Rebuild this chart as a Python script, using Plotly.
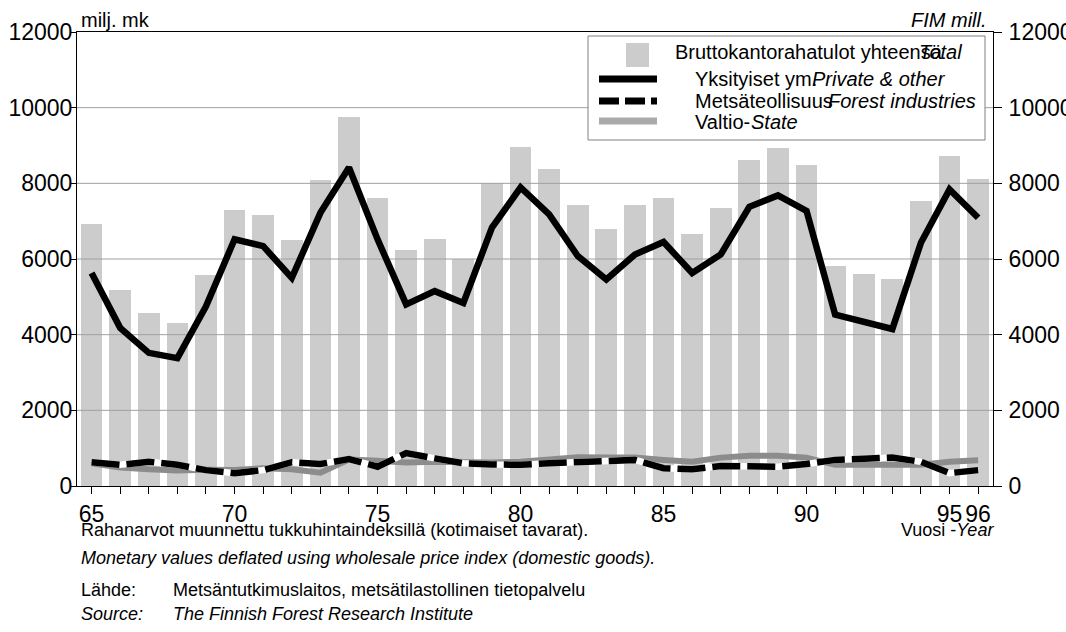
import plotly.graph_objects as go

# Stumpage earnings by seller group, million FIM (deflated), 1965-1996
years = list(range(1965, 1997))
total = [6930, 5190, 4560, 4300, 5590, 7290, 7150, 6500, 8100, 9750,
         7600, 6230, 6540, 6010, 8020, 8960, 8370, 7420, 6780, 7420,
         7600, 6650, 7360, 8630, 8930, 8490, 5810, 5610, 5460, 7540,
         8720, 8110]
private = [5630, 4180, 3520, 3380, 4750, 6520, 6340, 5500, 7220, 8420,
           6520, 4800, 5150, 4840, 6830, 7890, 7180, 6080, 5460, 6120,
           6450, 5630, 6120, 7380, 7680, 7270, 4530, 4330, 4150, 6430,
           7840, 7090]
forest = [630, 560, 640, 560, 420, 340, 420, 630, 580, 710,
          510, 870, 730, 600, 570, 560, 600, 630, 640, 690,
          470, 440, 530, 530, 510, 580, 690, 720, 750, 640,
          340, 420]
state = [600, 490, 440, 410, 430, 420, 470, 440, 350, 700,
         670, 620, 640, 620, 620, 640, 690, 760, 750, 750,
         690, 640, 750, 800, 800, 750, 560, 560, 530, 560,
         640, 680]

tick_labels = {1965: "65", 1970: "70", 1975: "75", 1980: "80",
               1985: "85", 1990: "90", 1995: "95", 1996: "96"}
y_ticks = [0, 2000, 4000, 6000, 8000, 10000, 12000]
y_tick_text = [str(v) for v in y_ticks]
grid_levels = [2000, 4000, 6000, 8000, 10000]

X_RANGE = [1964.49, 1996.52]
Y_RANGE = [0, 12000]

W, H = 1066, 632
ML, MR, MT, MB = 77, 73, 32, 146
PW, PH = W - ML - MR, H - MT - MB
FONT = "Arial, Liberation Sans, sans-serif"


def px(x):
    return (x - ML) / PW


def py(y):
    return (H - MB - y) / PH


fig = go.Figure()

fig.add_trace(go.Bar(x=years, y=total, width=0.76,
                     marker=dict(color="#cccccc", line=dict(width=0)),
                     hoverinfo="skip", showlegend=False))

# horizontal grid drawn over the bars
gx, gy = [], []
for g in grid_levels:
    gx += [X_RANGE[0], X_RANGE[1], None]
    gy += [g, g, None]
fig.add_trace(go.Scatter(x=gx, y=gy, mode="lines",
                         line=dict(color="#a0a0a0", width=1),
                         hoverinfo="skip", showlegend=False))

fig.add_trace(go.Scatter(x=years, y=state, mode="lines",
                         line=dict(color="#8c8c8c", width=6),
                         hoverinfo="skip", showlegend=False))
fig.add_trace(go.Scatter(x=years, y=forest, mode="lines",
                         line=dict(color="white", width=6.5),
                         hoverinfo="skip", showlegend=False))
fig.add_trace(go.Scatter(x=years, y=forest, mode="lines",
                         line=dict(color="black", width=6.5, dash="28px,7px"),
                         hoverinfo="skip", showlegend=False))
fig.add_trace(go.Scatter(x=years, y=private, mode="lines", yaxis="y2",
                         line=dict(color="black", width=6.5),
                         hoverinfo="skip", showlegend=False))

tick_font = dict(family=FONT, size=23, color="black")
axis_common = dict(showgrid=False, zeroline=False, showline=True,
                   linecolor="black", linewidth=1, ticks="outside",
                   tickcolor="black", tickwidth=1, tickfont=tick_font,
                   automargin=False)

fig.update_layout(
    width=W, height=H,
    margin=dict(l=ML, r=MR, t=MT, b=MB, pad=0),
    paper_bgcolor="white", plot_bgcolor="white",
    font=dict(family=FONT, color="black"),
    showlegend=False,
    bargap=0,
    xaxis=dict(range=X_RANGE, tickvals=years,
               ticktext=[tick_labels.get(y, "") for y in years],
               mirror=True, ticklen=7, **axis_common),
    yaxis=dict(range=Y_RANGE, tickvals=y_ticks, ticktext=y_tick_text,
               ticklen=5, ticklabelstandoff=-6, **axis_common),
    yaxis2=dict(range=Y_RANGE, tickvals=y_ticks, ticktext=y_tick_text,
                ticklen=8, overlaying="y", side="right",
                ticklabelstandoff=2, **axis_common),
)

# legend box
shapes = [
    dict(type="rect", xref="paper", yref="paper",
         x0=px(588), x1=px(985), y0=py(140), y1=py(36),
         fillcolor="white", line=dict(color="#808080", width=1), layer="above"),
    dict(type="rect", xref="paper", yref="paper",
         x0=px(626), x1=px(649), y0=py(67), y1=py(43),
         fillcolor="#cccccc", line=dict(width=0), layer="above"),
    dict(type="line", xref="paper", yref="paper",
         x0=px(599), x1=px(657), y0=py(79), y1=py(79),
         line=dict(color="black", width=7), layer="above"),
    dict(type="line", xref="paper", yref="paper",
         x0=px(599), x1=px(657), y0=py(101), y1=py(101),
         line=dict(color="black", width=7, dash="20px,6px"), layer="above"),
    dict(type="line", xref="paper", yref="paper",
         x0=px(599), x1=px(657), y0=py(121), y1=py(121),
         line=dict(color="#aaaaaa", width=7), layer="above"),
]
fig.update_layout(shapes=shapes)


def note(text, x, y, anchor="left", size=20):
    fig.add_annotation(text=text, xref="paper", yref="paper",
                       x=px(x), y=py(y), xanchor=anchor, yanchor="middle",
                       showarrow=False,
                       font=dict(family=FONT, size=size, color="black"))


# legend entries
note("Bruttokantorahatulot yhteensä", 673, 52)
note("<i>Total</i>", 964, 52, "right")
note("Yksityiset ym.", 693, 79)
note("<i>Private & other</i>", 948, 79, "right")
note("Metsäteollisuus", 693, 101)
note("<i>Forest industries</i>", 978, 101, "right")
note("Valtio-", 693, 122)
note("<i>State</i>", 800, 122, "right")

# unit labels
note("milj. mk", 79, 20)
note("<i>FIM mill.</i>", 989, 20, "right")

# footnotes
note("Rahanarvot muunnettu tukkuhintaindeksillä (kotimaiset tavarat).", 79, 530, size=18)
note("Vuosi -<i>Year</i>", 996, 530, "right", size=18)
note("<i>Monetary values deflated using wholesale price index (domestic goods).</i>",
     79, 558, size=18)
note("Lähde:", 79, 590, size=18)
note("Metsäntutkimuslaitos, metsätilastollinen tietopalvelu", 171, 590, size=18)
note("<i>Source:</i>", 79, 614, size=18)
note("<i>The Finnish Forest Research Institute</i>", 171, 614, size=18)

fig.write_html("out.html")
